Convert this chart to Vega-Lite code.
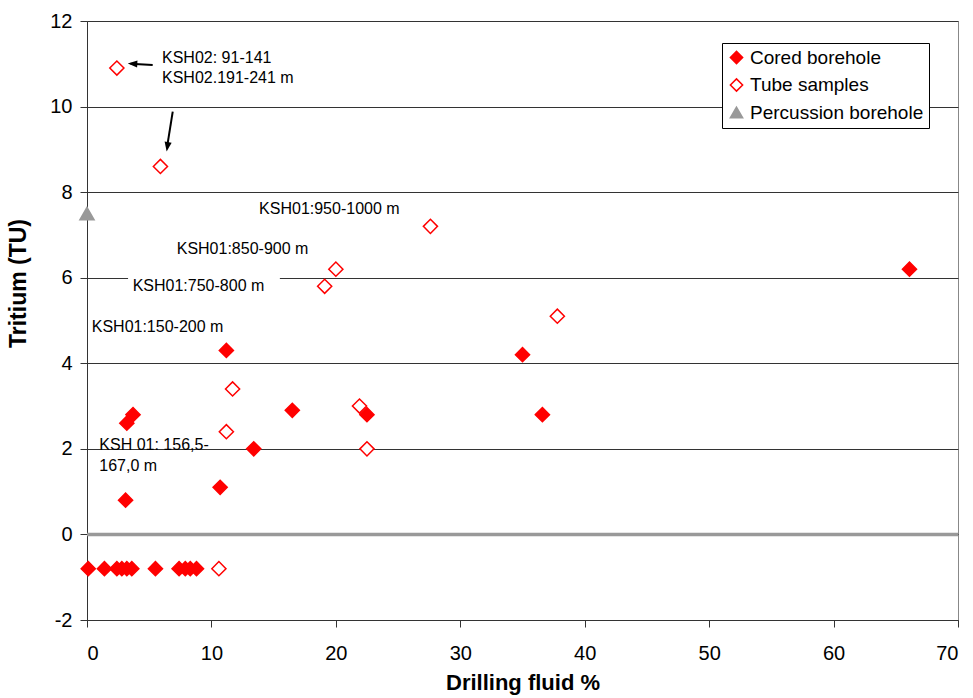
{
  "$schema": "https://vega.github.io/schema/vega-lite/v6.json",
  "width": 871,
  "height": 599,
  "autosize": {"type": "none"},
  "padding": {"left": 87, "top": 21, "right": 15, "bottom": 78},
  "background": "#ffffff",
  "config": {
    "font": "Liberation Sans",
    "view": {"stroke": "#888888", "strokeWidth": 1},
    "axis": {
      "labelFont": "Liberation Sans",
      "labelFontSize": 20,
      "labelColor": "#000000",
      "titleFont": "Liberation Sans",
      "titleFontSize": 22,
      "titleFontWeight": "bold",
      "titleColor": "#000000",
      "domainColor": "#333333",
      "tickColor": "#333333",
      "tickSize": 7
    }
  },
  "datasets": {
    "samples": [
      {"fluid": 66.1, "tritium": 6.2, "series": "Cored borehole"},
      {"fluid": 35.0, "tritium": 4.2, "series": "Cored borehole"},
      {"fluid": 36.6, "tritium": 2.8, "series": "Cored borehole"},
      {"fluid": 11.2, "tritium": 4.3, "series": "Cored borehole"},
      {"fluid": 16.5, "tritium": 2.9, "series": "Cored borehole"},
      {"fluid": 22.5, "tritium": 2.8, "series": "Cored borehole"},
      {"fluid": 13.4, "tritium": 2.0, "series": "Cored borehole"},
      {"fluid": 10.7, "tritium": 1.1, "series": "Cored borehole"},
      {"fluid": 3.7, "tritium": 2.8, "series": "Cored borehole"},
      {"fluid": 3.2, "tritium": 2.6, "series": "Cored borehole"},
      {"fluid": 3.1, "tritium": 0.8, "series": "Cored borehole"},
      {"fluid": 0.1, "tritium": -0.8, "series": "Cored borehole"},
      {"fluid": 1.4, "tritium": -0.8, "series": "Cored borehole"},
      {"fluid": 2.4, "tritium": -0.8, "series": "Cored borehole"},
      {"fluid": 2.8, "tritium": -0.8, "series": "Cored borehole"},
      {"fluid": 3.2, "tritium": -0.8, "series": "Cored borehole"},
      {"fluid": 3.6, "tritium": -0.8, "series": "Cored borehole"},
      {"fluid": 5.5, "tritium": -0.8, "series": "Cored borehole"},
      {"fluid": 7.4, "tritium": -0.8, "series": "Cored borehole"},
      {"fluid": 7.9, "tritium": -0.8, "series": "Cored borehole"},
      {"fluid": 8.3, "tritium": -0.8, "series": "Cored borehole"},
      {"fluid": 8.8, "tritium": -0.8, "series": "Cored borehole"},
      {"fluid": 2.4, "tritium": 10.9, "series": "Tube samples"},
      {"fluid": 5.9, "tritium": 8.6, "series": "Tube samples"},
      {"fluid": 27.6, "tritium": 7.2, "series": "Tube samples"},
      {"fluid": 20.0, "tritium": 6.2, "series": "Tube samples"},
      {"fluid": 19.1, "tritium": 5.8, "series": "Tube samples"},
      {"fluid": 37.8, "tritium": 5.1, "series": "Tube samples"},
      {"fluid": 11.7, "tritium": 3.4, "series": "Tube samples"},
      {"fluid": 11.2, "tritium": 2.4, "series": "Tube samples"},
      {"fluid": 21.9, "tritium": 3.0, "series": "Tube samples"},
      {"fluid": 22.5, "tritium": 2.0, "series": "Tube samples"},
      {"fluid": 10.6, "tritium": -0.8, "series": "Tube samples"},
      {"fluid": 0.0, "tritium": 7.5, "series": "Percussion borehole"}
    ],
    "notes": [
      {"fluid": 6.03, "tritium": 11.14, "note": "KSH02: 91-141"},
      {"fluid": 6.03, "tritium": 10.67, "note": "KSH02.191-241 m"},
      {"fluid": 13.83, "tritium": 7.61, "note": "KSH01:950-1000 m"},
      {"fluid": 7.21, "tritium": 6.67, "note": "KSH01:850-900 m"},
      {"fluid": 3.67, "tritium": 5.81, "note": "KSH01:750-800 m"},
      {"fluid": 0.38, "tritium": 4.84, "note": "KSH01:150-200 m"},
      {"fluid": 0.99, "tritium": 2.08, "note": "KSH 01: 156,5-"},
      {"fluid": 0.99, "tritium": 1.61, "note": "167,0 m"}
    ]
  },
  "encoding": {
    "x": {
      "field": "fluid",
      "type": "quantitative",
      "scale": {"domain": [0, 70], "nice": false, "zero": false},
      "axis": {
        "title": "Drilling fluid %",
        "values": [0, 10, 20, 30, 40, 50, 60, 70],
        "grid": false,
        "labelPadding": 16,
        "titlePadding": 9
      }
    },
    "y": {
      "field": "tritium",
      "type": "quantitative",
      "scale": {"domain": [-2, 12], "nice": false, "zero": false},
      "axis": {
        "title": "Tritium (TU)",
        "values": [-2, 0, 2, 4, 6, 8, 10, 12],
        "labelExpr": "replace(datum.label, '\u2212', '-')",
        "grid": true,
        "gridColor": "#333333",
        "gridWidth": 1,
        "gridOpacity": 1,
        "labelPadding": 8,
        "titleFontSize": 23,
        "titleY": 262,
        "titleX": -69,
        "titleBaseline": "middle",
        "titleAlign": "center",
        "titleAngle": 270
      }
    }
  },
  "layer": [
    {
      "data": {"values": [{"fluid": 0, "fluid_end": 70, "tritium": 0}]},
      "mark": {"type": "rule", "color": "#999999", "strokeWidth": 3.5},
      "encoding": {
        "x2": {"field": "fluid_end"}
      }
    },
    {
      "data": {"values": [{"fluid": 3.3, "fluid_end": 15.5, "tritium": 5.55, "tritium_end": 6.07}]},
      "mark": {"type": "rect", "color": "#ffffff"},
      "encoding": {
        "x2": {"field": "fluid_end"},
        "y2": {"field": "tritium_end"}
      }
    },
    {
      "data": {"name": "notes"},
      "mark": {"type": "text", "align": "left", "baseline": "middle", "fontSize": 16, "font": "Liberation Sans", "color": "#000000"},
      "encoding": {"text": {"field": "note"}}
    },
    {
      "data": {"values": [{"fluid": 5.28, "tritium": 10.97, "fluid_end": 3.5, "tritium_end": 11.0}]},
      "mark": {"type": "rule", "color": "#000000", "strokeWidth": 2},
      "encoding": {
        "x2": {"field": "fluid_end"},
        "y2": {"field": "tritium_end"}
      }
    },
    {
      "data": {"values": [{"fluid": 3.66, "tritium": 11.0}]},
      "mark": {"type": "point", "shape": "M -1 0 L 1 -0.75 L 1 0.75 Z", "size": 90, "filled": true, "color": "#000000", "opacity": 1, "angle": 3}
    },
    {
      "data": {"values": [{"fluid": 6.89, "tritium": 9.88, "fluid_end": 6.46, "tritium_end": 9.1}]},
      "mark": {"type": "rule", "color": "#000000", "strokeWidth": 2},
      "encoding": {
        "x2": {"field": "fluid_end"},
        "y2": {"field": "tritium_end"}
      }
    },
    {
      "data": {"values": [{"fluid": 6.46, "tritium": 9.06}]},
      "mark": {"type": "point", "shape": "M -1 0 L 1 -0.75 L 1 0.75 Z", "size": 90, "filled": true, "color": "#000000", "opacity": 1, "angle": 279}
    },
    {
      "data": {"name": "samples"},
      "mark": {"type": "point", "filled": true, "size": 200, "strokeWidth": 1.5, "opacity": 1},
      "encoding": {
        "shape": {
          "field": "series",
          "type": "nominal",
          "scale": {"domain": ["Cored borehole", "Tube samples", "Percussion borehole"], "range": ["diamond", "diamond", "triangle-up"]},
          "legend": {
            "title": null,
            "orient": "none",
            "legendX": 635,
            "legendY": 22,
            "padding": 5,
            "strokeColor": "#000000",
            "fillColor": "#ffffff",
            "labelFontSize": 19,
            "labelFont": "Liberation Sans",
            "labelColor": "#000000",
            "labelLimit": 300,
            "labelOffset": 4,
            "symbolSize": 150,
            "symbolStrokeWidth": 1.5,
            "rowPadding": 7.5
          }
        },
        "fill": {
          "field": "series",
          "type": "nominal",
          "scale": {"domain": ["Cored borehole", "Tube samples", "Percussion borehole"], "range": ["#ff0000", "#ffffff", "#999999"]}
        },
        "stroke": {
          "field": "series",
          "type": "nominal",
          "scale": {"domain": ["Cored borehole", "Tube samples", "Percussion borehole"], "range": ["#ff0000", "#ff0000", "#999999"]}
        }
      }
    }
  ]
}
